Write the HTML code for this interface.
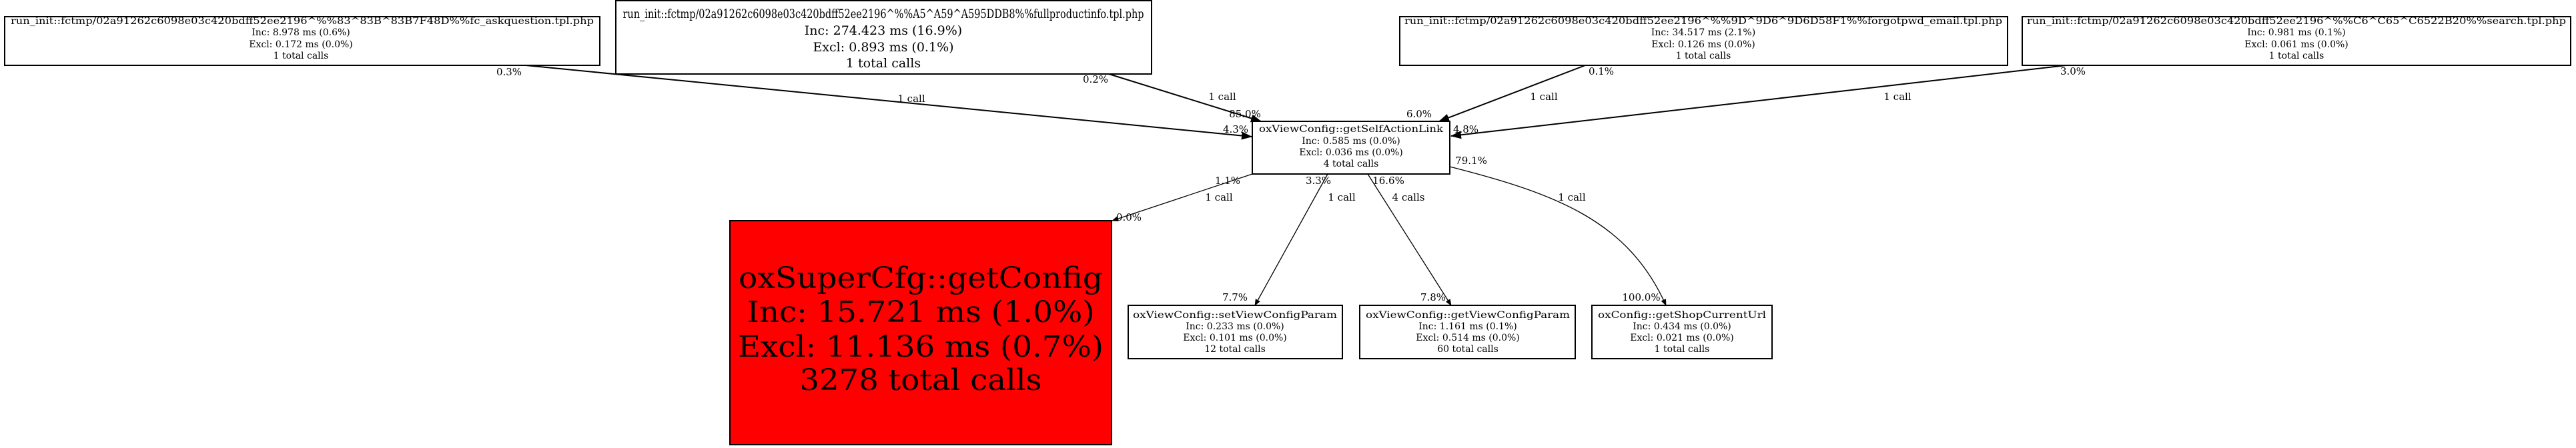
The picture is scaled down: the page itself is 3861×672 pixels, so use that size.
<!DOCTYPE html>
<html><head><meta charset="utf-8"><style>
html,body{margin:0;padding:0;background:#fff;width:3861px;height:672px;overflow:hidden}
svg{display:block}
text{font-family:"DejaVu Serif","Liberation Serif",serif;fill:#000}
</style></head><body>
<svg width="3861" height="672" viewBox="0 0 3861 672" xmlns="http://www.w3.org/2000/svg">
<defs><marker id="a" markerWidth="10" markerHeight="8" refX="9" refY="4" orient="auto" markerUnits="userSpaceOnUse"><path d="M0,0 L10,4 L0,8 z" fill="#000"/></marker>
<marker id="b" markerWidth="16" markerHeight="12" refX="15" refY="6" orient="auto" markerUnits="userSpaceOnUse"><path d="M0,0 L16,6 L0,12 z" fill="#000"/></marker></defs>

<g fill="none" stroke="#000" stroke-width="2">
<line x1="788" y1="98" x2="1876" y2="205" marker-end="url(#b)"/>
<line x1="1662" y1="111" x2="1890" y2="182" marker-end="url(#b)"/>
<line x1="2376" y1="98" x2="2157" y2="182" marker-end="url(#b)"/>
<line x1="3097" y1="98" x2="2175" y2="204" marker-end="url(#b)"/>
</g>
<g fill="none" stroke="#000" stroke-width="1.3">
<line x1="1877" y1="261" x2="1667" y2="331" marker-end="url(#a)"/>
<line x1="1990" y1="261" x2="1881" y2="458" marker-end="url(#a)"/>
<line x1="2050" y1="261" x2="2175" y2="458" marker-end="url(#a)"/>
<path d="M2173,250 C2330,290 2440,330 2497,458" marker-end="url(#a)"/>
</g>

<g fill="#fff" stroke="#000" stroke-width="2">
<rect x="7" y="25" width="892" height="73"/>
<rect x="923" y="1" width="803" height="110"/>
<rect x="2098" y="25" width="911" height="73"/>
<rect x="3031" y="25" width="822" height="73"/>
<rect x="1877" y="182" width="296" height="79"/>
<rect x="1691" y="458" width="321" height="80"/>
<rect x="2038" y="458" width="323" height="80"/>
<rect x="2386" y="458" width="270" height="80"/>
</g>
<rect x="1094" y="331" width="572" height="336" fill="#f00" stroke="#000" stroke-width="2"/>

<g font-size="14" text-anchor="middle">
<text x="453" y="36" textLength="874" lengthAdjust="spacingAndGlyphs">run_init::fctmp/02a91262c6098e03c420bdff52ee2196^%%83^83B^83B7F48D%%fc_askquestion.tpl.php</text>
<text x="451" y="53">Inc: 8.978 ms (0.6%)</text>
<text x="451" y="71">Excl: 0.172 ms (0.0%)</text>
<text x="451" y="88">1 total calls</text>

<text x="2553" y="36" textLength="896" lengthAdjust="spacingAndGlyphs">run_init::fctmp/02a91262c6098e03c420bdff52ee2196^%%9D^9D6^9D6D58F1%%forgotpwd_email.tpl.php</text>
<text x="2553" y="53">Inc: 34.517 ms (2.1%)</text>
<text x="2553" y="71">Excl: 0.126 ms (0.0%)</text>
<text x="2553" y="88">1 total calls</text>

<text x="3442" y="36" textLength="808" lengthAdjust="spacingAndGlyphs">run_init::fctmp/02a91262c6098e03c420bdff52ee2196^%%C6^C65^C6522B20%%search.tpl.php</text>
<text x="3442" y="53">Inc: 0.981 ms (0.1%)</text>
<text x="3442" y="71">Excl: 0.061 ms (0.0%)</text>
<text x="3442" y="88">1 total calls</text>

<text x="2025" y="198" textLength="276" lengthAdjust="spacingAndGlyphs">oxViewConfig::getSelfActionLink</text>
<text x="2025" y="216">Inc: 0.585 ms (0.0%)</text>
<text x="2025" y="233">Excl: 0.036 ms (0.0%)</text>
<text x="2025" y="250">4 total calls</text>
</g>
<g font-size="14" text-anchor="middle">
<text x="1851" y="477" textLength="306" lengthAdjust="spacingAndGlyphs">oxViewConfig::setViewConfigParam</text>
<text x="1851" y="494">Inc: 0.233 ms (0.0%)</text>
<text x="1851" y="511">Excl: 0.101 ms (0.0%)</text>
<text x="1851" y="528">12 total calls</text>
<text x="2200" y="477" textLength="306" lengthAdjust="spacingAndGlyphs">oxViewConfig::getViewConfigParam</text>
<text x="2200" y="494">Inc: 1.161 ms (0.1%)</text>
<text x="2200" y="511">Excl: 0.514 ms (0.0%)</text>
<text x="2200" y="528">60 total calls</text>
<text x="2521" y="477" textLength="252" lengthAdjust="spacingAndGlyphs">oxConfig::getShopCurrentUrl</text>
<text x="2521" y="494">Inc: 0.434 ms (0.0%)</text>
<text x="2521" y="511">Excl: 0.021 ms (0.0%)</text>
<text x="2521" y="528">1 total calls</text>
</g>
<g font-size="19" text-anchor="middle">
<text x="1324" y="27" textLength="781" lengthAdjust="spacingAndGlyphs">run_init::fctmp/02a91262c6098e03c420bdff52ee2196^%%A5^A59^A595DDB8%%fullproductinfo.tpl.php</text>
<text x="1324" y="52">Inc: 274.423 ms (16.9%)</text>
<text x="1324" y="77">Excl: 0.893 ms (0.1%)</text>
<text x="1324" y="101">1 total calls</text>
</g>
<g font-size="44" text-anchor="middle">
<text x="1380" y="432" textLength="546" lengthAdjust="spacingAndGlyphs">oxSuperCfg::getConfig</text>
<text x="1380" y="483" textLength="521" lengthAdjust="spacingAndGlyphs">Inc: 15.721 ms (1.0%)</text>
<text x="1380" y="535" textLength="548" lengthAdjust="spacingAndGlyphs">Excl: 11.136 ms (0.7%)</text>
<text x="1380" y="585" textLength="363" lengthAdjust="spacingAndGlyphs">3278 total calls</text>
</g>
<g font-size="15" text-anchor="middle">
<text x="1366" y="153">1 call</text>
<text x="763" y="113">0.3%</text>
<text x="1852" y="199">4.3%</text>
<text x="1832" y="150">1 call</text>
<text x="1642" y="124">0.2%</text>
<text x="1866" y="176">85.0%</text>
<text x="2314" y="150">1 call</text>
<text x="2400" y="112">0.1%</text>
<text x="2127" y="176">6.0%</text>
<text x="2844" y="150">1 call</text>
<text x="3107" y="112">3.0%</text>
<text x="2197" y="199">4.8%</text>
<text x="1840" y="276">1.1%</text>
<text x="1827" y="301">1 call</text>
<text x="1692" y="331">0.0%</text>
<text x="1976" y="276">3.3%</text>
<text x="2011" y="301">1 call</text>
<text x="1851" y="451">7.7%</text>
<text x="2081" y="276">16.6%</text>
<text x="2111" y="301">4 calls</text>
<text x="2148" y="451">7.8%</text>
<text x="2205" y="246">79.1%</text>
<text x="2356" y="301">1 call</text>
<text x="2460" y="451">100.0%</text>
</g>
</svg>
</body></html>
